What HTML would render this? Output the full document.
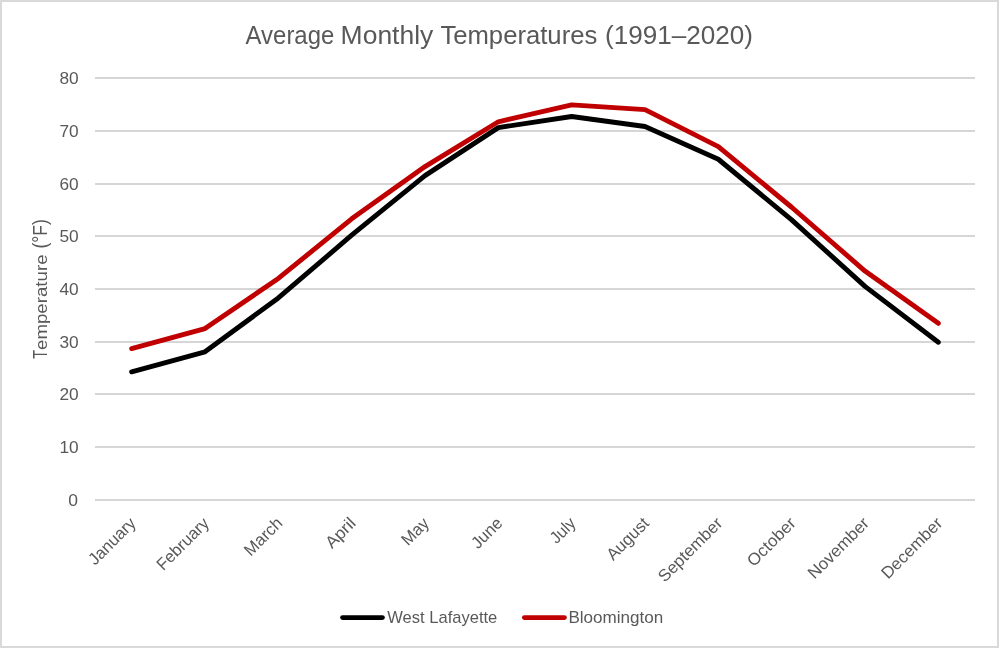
<!DOCTYPE html>
<html><head><meta charset="utf-8"><title>Average Monthly Temperatures</title>
<style>
html,body{margin:0;padding:0;background:#fff;}
body{width:999px;height:648px;overflow:hidden;}
svg{display:block;will-change:transform;}
text{font-family:"Liberation Sans",sans-serif;fill:#595959;}
.grid rect{fill:#D6D6D6;}
.tick text{font-size:16.6px;}
.cat text{font-size:16.8px;}
.series{fill:none;stroke-width:4.9;stroke-linecap:round;stroke-linejoin:round;}
</style></head><body>
<svg width="999" height="648" viewBox="0 0 999 648">
<rect x="1" y="1" width="997" height="646" fill="#fff" stroke="#D9D9D9" stroke-width="2"/>
<g class="title">
<text x="245.60" y="43.7" font-size="26.6" textLength="88.71" lengthAdjust="spacingAndGlyphs">Average</text>
<text x="340.61" y="43.7" font-size="26.6" textLength="92.69" lengthAdjust="spacingAndGlyphs">Monthly</text>
<text x="440.40" y="43.7" font-size="26.6" textLength="156.89" lengthAdjust="spacingAndGlyphs">Temperatures</text>
<text x="605.02" y="43.7" font-size="26.6" textLength="148.02" lengthAdjust="spacingAndGlyphs">(1991–2020)</text>
</g>
<g class="grid">
<rect x="95" y="77" width="880" height="2"/>
<rect x="95" y="130" width="880" height="2"/>
<rect x="95" y="183" width="880" height="2"/>
<rect x="95" y="235" width="880" height="2"/>
<rect x="95" y="288" width="880" height="2"/>
<rect x="95" y="341" width="880" height="2"/>
<rect x="95" y="393" width="880" height="2"/>
<rect x="95" y="446" width="880" height="2"/>
<rect x="95" y="499" width="880" height="2"/>
</g>
<g class="tick">
<text x="59.40" y="83.90" textLength="19.24" lengthAdjust="spacingAndGlyphs">80</text>
<text x="59.40" y="136.90" textLength="19.24" lengthAdjust="spacingAndGlyphs">70</text>
<text x="59.40" y="189.90" textLength="19.24" lengthAdjust="spacingAndGlyphs">60</text>
<text x="59.40" y="241.90" textLength="19.24" lengthAdjust="spacingAndGlyphs">50</text>
<text x="59.40" y="294.90" textLength="19.24" lengthAdjust="spacingAndGlyphs">40</text>
<text x="59.40" y="347.90" textLength="19.24" lengthAdjust="spacingAndGlyphs">30</text>
<text x="59.40" y="399.90" textLength="19.24" lengthAdjust="spacingAndGlyphs">20</text>
<text x="59.40" y="452.90" textLength="19.24" lengthAdjust="spacingAndGlyphs">10</text>
<text x="68.30" y="505.90" textLength="9.74" lengthAdjust="spacingAndGlyphs">0</text>
</g>
<g class="ylabel" transform="translate(46.9,358.5) rotate(-90)">
<text x="-0.30" y="0" font-size="19.5" textLength="8.74" lengthAdjust="spacingAndGlyphs">T</text>
<text x="8.50" y="0" font-size="17.4" textLength="95.52" lengthAdjust="spacingAndGlyphs">emperature</text>
<text x="109.90" y="0" font-size="19.5" textLength="29.55" lengthAdjust="spacingAndGlyphs">(°F)</text>
</g>
<g class="cat">
<text transform="translate(136.77,524.3) rotate(-45)" text-anchor="end" textLength="59.03" lengthAdjust="spacingAndGlyphs">January</text>
<text transform="translate(210.10,524.3) rotate(-45)" text-anchor="end" textLength="66.40" lengthAdjust="spacingAndGlyphs">February</text>
<text transform="translate(283.43,524.3) rotate(-45)" text-anchor="end" textLength="46.10" lengthAdjust="spacingAndGlyphs">March</text>
<text transform="translate(356.77,524.3) rotate(-45)" text-anchor="end" textLength="35.20" lengthAdjust="spacingAndGlyphs">April</text>
<text transform="translate(430.10,524.3) rotate(-45)" text-anchor="end" textLength="31.35" lengthAdjust="spacingAndGlyphs">May</text>
<text transform="translate(503.43,524.3) rotate(-45)" text-anchor="end" textLength="35.98" lengthAdjust="spacingAndGlyphs">June</text>
<text transform="translate(576.77,524.3) rotate(-45)" text-anchor="end" textLength="28.71" lengthAdjust="spacingAndGlyphs">July</text>
<text transform="translate(650.10,524.3) rotate(-45)" text-anchor="end" textLength="52.16" lengthAdjust="spacingAndGlyphs">August</text>
<text transform="translate(723.43,524.3) rotate(-45)" text-anchor="end" textLength="83.17" lengthAdjust="spacingAndGlyphs">September</text>
<text transform="translate(796.77,524.3) rotate(-45)" text-anchor="end" textLength="61.03" lengthAdjust="spacingAndGlyphs">October</text>
<text transform="translate(870.10,524.3) rotate(-45)" text-anchor="end" textLength="78.54" lengthAdjust="spacingAndGlyphs">November</text>
<text transform="translate(943.43,524.3) rotate(-45)" text-anchor="end" textLength="78.54" lengthAdjust="spacingAndGlyphs">December</text>
</g>
<polyline class="series" stroke="#000" points="131.67,371.82 205.00,351.77 278.33,297.97 351.67,235.19 425.00,175.59 498.33,127.59 571.67,116.51 645.00,126.53 718.33,159.24 791.67,219.90 865.00,286.36 938.33,342.28"/>
<polyline class="series" stroke="#C00000" points="131.67,348.61 205.00,328.56 278.33,278.45 351.67,218.84 425.00,166.62 498.33,121.78 571.67,104.90 645.00,109.65 718.33,146.57 791.67,207.24 865.00,271.06 938.33,323.29"/>
<g class="leg">
<line class="series" stroke="#000" x1="342.6" x2="382.4" y1="617.6" y2="617.6"/>
<text x="387.30" y="623.0" font-size="16.4" textLength="110.02" lengthAdjust="spacingAndGlyphs">West Lafayette</text>
<line class="series" stroke="#C00000" x1="524.4" x2="564.4" y1="617.6" y2="617.6"/>
<text x="568.46" y="623.0" font-size="16.4" textLength="94.86" lengthAdjust="spacingAndGlyphs">Bloomington</text>
</g>
</svg>
</body></html>
